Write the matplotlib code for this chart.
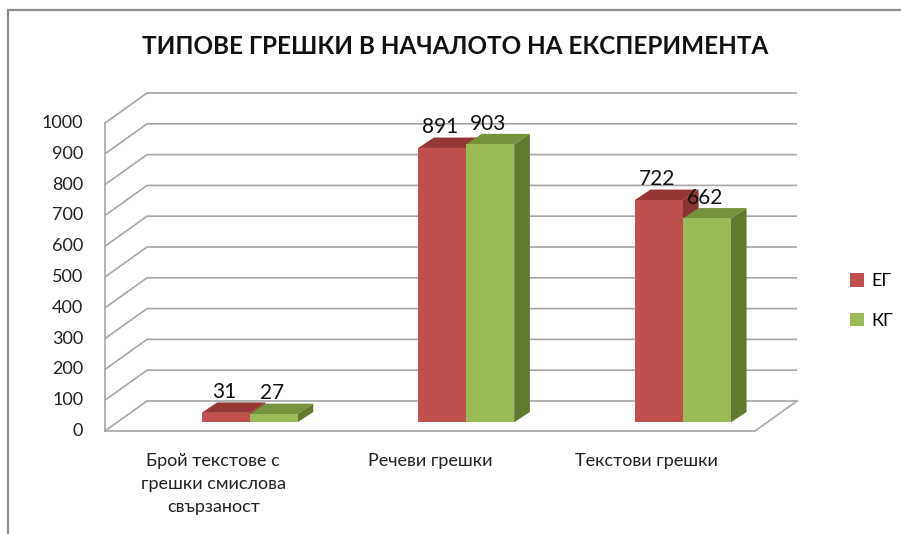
"""
Recreate the Excel-style 3D clustered column chart (ЕГ vs КГ errors).
"""

import matplotlib
matplotlib.use("Agg")
import matplotlib.pyplot as plt
from matplotlib.patches import Polygon, Patch, Rectangle

# data
categories = ["Брой текстове с\nгрешки смислова\nсвързаност", "Речеви грешки", "Текстови грешки"]
eg_values = [31, 891, 722]
kg_values = [27, 903, 662]
series_names = ["ЕГ", "КГ"]
y_ticks = list(range(0, 1001, 100))

FONT = ["Lato", "DejaVu Sans"]

# colours: front, top, side
RED = ("#C0504D", "#953735", "#8A3331")
GREEN = ("#9BBB59", "#76923C", "#617A30")
GRID = "#a6a6a6"

# pseudo 3D geometry (category units / value units)
WALL_DX, WALL_DY = 0.194, 97.4
BAR_SHIFT_X, BAR_SHIFT_Y = 0.167, 28.0
BAR_W = 0.2215
BAR_DX, BAR_DY = 0.0725, 33.8

W, H = 901, 534
fig = plt.figure(figsize=(W / 100, H / 100), dpi=100)
ax = fig.add_axes([105 / W, 1 - 431 / H, 650 / W, 308 / H])
ax.set_xlim(0, len(categories))
ax.set_ylim(0, 1000)
ax.axis("off")

n = len(categories)

# walls and gridlines
for v in y_ticks:
    ax.plot([0, WALL_DX, n + WALL_DX], [v, v + WALL_DY, v + WALL_DY],
            color=GRID, lw=1.2, clip_on=False, zorder=1, solid_capstyle="butt")
    ax.text(-0.1, v, str(v), ha="right", va="center", fontsize=13,
            family=FONT, color="#222222")
ax.plot([0, 0], [0, 1000], color=GRID, lw=1.2, clip_on=False, zorder=1)
ax.plot([0, n, n + WALL_DX], [0, 0, WALL_DY], color=GRID, lw=1.2,
        clip_on=False, zorder=1)


def draw_bar(x0, val, cols, z):
    y0 = BAR_SHIFT_Y
    y1 = BAR_SHIFT_Y + val
    front = [(x0, y0), (x0 + BAR_W, y0), (x0 + BAR_W, y1), (x0, y1)]
    top = [(x0, y1), (x0 + BAR_W, y1), (x0 + BAR_W + BAR_DX, y1 + BAR_DY),
           (x0 + BAR_DX, y1 + BAR_DY)]
    side = [(x0 + BAR_W, y0), (x0 + BAR_W + BAR_DX, y0 + BAR_DY),
            (x0 + BAR_W + BAR_DX, y1 + BAR_DY), (x0 + BAR_W, y1)]
    for pts, c in ((side, cols[2]), (top, cols[1]), (front, cols[0])):
        ax.add_patch(Polygon(pts, closed=True, facecolor=c, edgecolor="none",
                             clip_on=False, zorder=z))
    ax.text(x0 + BAR_W / 2 - 0.008, y1 + BAR_DY + 14, str(val), ha="center",
            va="baseline", fontsize=15, family=FONT, color="#111111", zorder=10)


for i in range(n):
    center = i + 0.5 + BAR_SHIFT_X
    draw_bar(center - BAR_W, eg_values[i], RED, 3 + 2 * i)
    draw_bar(center, kg_values[i], GREEN, 4 + 2 * i)
    ax.text(i + 0.5, -71, categories[i], ha="center", va="top",
            multialignment="center", linespacing=1.55, fontsize=13,
            family=FONT, color="#222222")

fig.text(455 / W, 1 - 46 / H, "ТИПОВЕ ГРЕШКИ В НАЧАЛОТО НА ЕКСПЕРИМЕНТА",
         ha="center", va="center", fontsize=17.5, fontweight="bold",
         family=FONT, color="#111111")

handles = [Patch(facecolor=RED[0]), Patch(facecolor=GREEN[0])]
fig.legend(handles, series_names, loc="center left",
           bbox_to_anchor=(843 / W, 1 - 301 / H), frameon=False,
           handlelength=0.75, handleheight=0.75, handletextpad=0.4,
           labelspacing=1.3, borderpad=0.2, borderaxespad=0.2,
           prop={"family": FONT, "size": 13})

# chart border
fig.add_artist(Rectangle((8 / W, -0.02), 1.0, 1 - 10 / H + 0.02,
                         transform=fig.transFigure, fill=False,
                         edgecolor="#8c8c8c", lw=1.6))

fig.savefig("out.png", dpi=100)
plt.close(fig)
